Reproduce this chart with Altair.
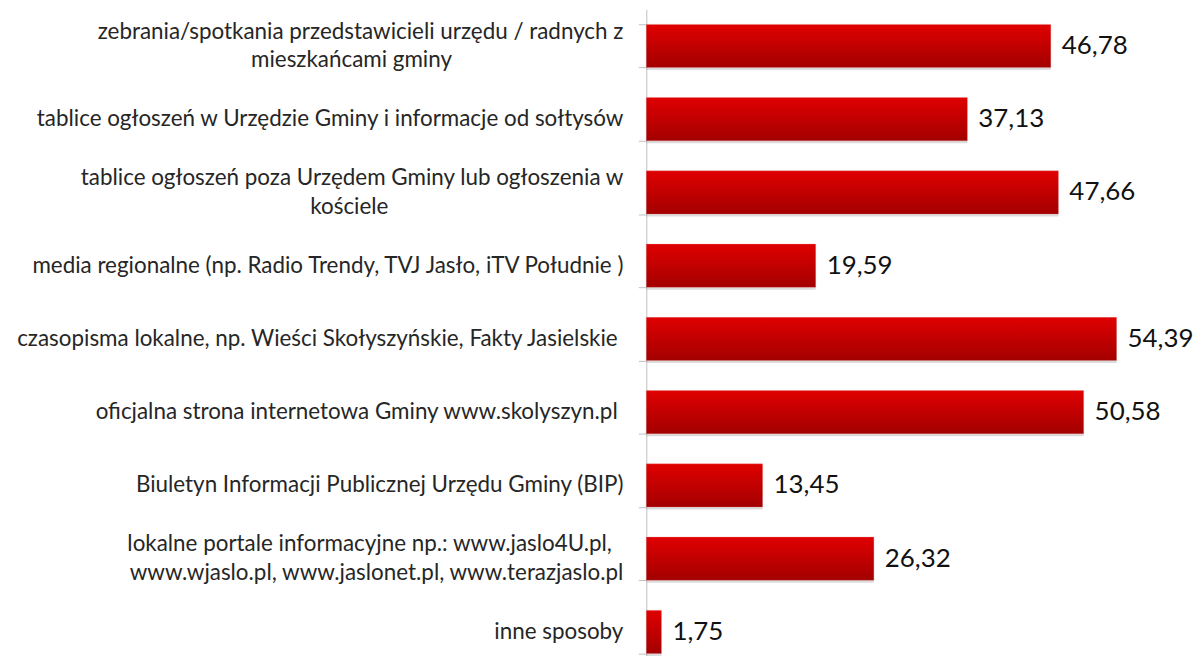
import altair as alt
import pandas as pd

# ---- data ----
label_lines = [
    ["zebrania/spotkania przedstawicieli urzędu / radnych z", "mieszkańcami gminy"],
    ["tablice ogłoszeń w Urzędzie Gminy i informacje od sołtysów"],
    ["tablice ogłoszeń poza Urzędem Gminy lub ogłoszenia w", "kościele"],
    ["media regionalne (np. Radio Trendy, TVJ Jasło, iTV Południe )"],
    ["czasopisma lokalne, np. Wieści Skołyszyńskie, Fakty Jasielskie"],
    ["oficjalna strona internetowa Gminy www.skolyszyn.pl"],
    ["Biuletyn Informacji Publicznej Urzędu Gminy (BIP)"],
    ["lokalne portale informacyjne np.: www.jaslo4U.pl,", "www.wjaslo.pl, www.jaslonet.pl, www.terazjaslo.pl"],
    ["inne sposoby"],
]
values = [46.78, 37.13, 47.66, 19.59, 54.39, 50.58, 13.45, 26.32, 1.75]

# trailing non-breaking spaces so lines sit as in the original (centred blocks / trailing blanks)
trail = [
    [0, 30],
    [0],
    [0, 41],
    [0],
    [1],
    [1],
    [0],
    [2, 0],
    [0],
]

NB = "\u00a0"
END = "\u200b"  # keeps the trailing blanks from being trimmed
cats = [
    "|".join(l + (NB * n + END if n else "") for l, n in zip(lines, pads))
    for lines, pads in zip(label_lines, trail)
]
n_lines = [len(l) for l in label_lines]
labels = [f"{v:.2f}".replace(".", ",") for v in values]

df = pd.DataFrame({"cat": cats, "val": values, "lab": labels, "n": n_lines})

LH = 29

y_enc = alt.Y(
    "cat:N",
    sort=cats,
    scale=alt.Scale(range=[0, 662], paddingInner=0.41, paddingOuter=0.205),
    axis=alt.Axis(
        title=None,
        labels=False,
        tickBand="extent",
        tickSize=8,
        tickColor="#bfbfbf",
        domainColor="#bfbfbf",
        grid=False,
    ),
)
x_enc = alt.X("val:Q", scale=alt.Scale(domain=[0, 60]), axis=None)

base = alt.Chart(df).encode(y=y_enc, x=x_enc)

shadow = base.mark_bar(color="#8c8c8c", opacity=0.3, yOffset=2.5, x2Offset=1)
bars = base.mark_bar(
    stroke="#e88080",
    strokeWidth=0.5,
    strokeOpacity=0.6,
    color=alt.Gradient(
        gradient="linear",
        x1=0, y1=0, x2=0, y2=1,
        stops=[alt.GradientStop(offset=0, color="#e00000"),
               alt.GradientStop(offset=1, color="#a30000")],
    ),
)
text = base.mark_text(align="left", baseline="middle", dx=11, font="Lato", fontSize=26, color="#111111").encode(
    text="lab:N"
)

lab_style = dict(align="right", baseline="middle", font="Lato", fontSize=22.5,
                 color="#262626", lineHeight=LH, limit=800)
lab_base = (
    alt.Chart(df)
    .transform_calculate(lines="split(datum.cat, '|')")
    .encode(y=y_enc, x=alt.value(-23), text="lines:N")
)
labels_one = lab_base.transform_filter("datum.n == 1").mark_text(**lab_style)
labels_two = lab_base.transform_filter("datum.n == 2").mark_text(dy=-LH / 2, **lab_style)

chart = (
    alt.layer(shadow, bars, text, labels_one, labels_two)
    .properties(
        width=521,
        height=648,
        autosize=alt.AutoSizeParams(type="none"),
        padding={"left": 641, "top": 0, "right": 28, "bottom": 0},
    )
    .configure_view(stroke=None)
)

chart.save("out.html", embed_options={"renderer": "svg", "actions": False})
